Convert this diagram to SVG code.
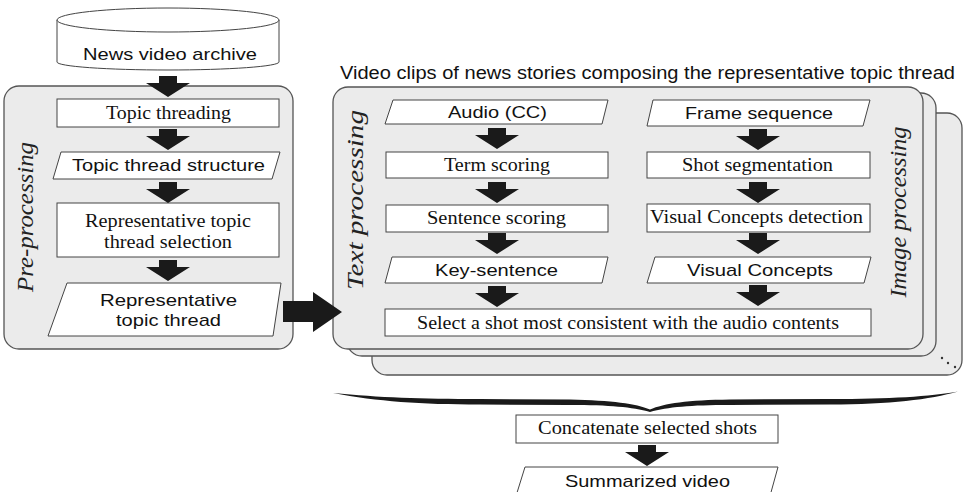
<svg xmlns="http://www.w3.org/2000/svg" xmlns:xlink="http://www.w3.org/1999/xlink" width="965" height="492" viewBox="0 0 965 492">
<style>
.panel{fill:#ebebeb;stroke:#555;stroke-width:1.3}
.box{fill:#fff;stroke:#444;stroke-width:1}
.sans{font-family:"Liberation Sans",Arial,sans-serif;font-size:17px;fill:#111}
.serif{font-family:"Liberation Serif","Times New Roman",serif;font-size:18px;fill:#111}
.lbl{font-family:"Liberation Serif","Times New Roman",serif;font-size:23px;font-style:italic;fill:#222}
.arr{fill:#1a1a1a}
</style>
<defs>
<path id="arr" d="M-9,0 H9 V7 H22 L0,21 L-22,7 H-9 Z"/>
</defs>
<rect width="965" height="492" fill="#fff"/>

<g id="panel-stack">
<rect class="panel" x="372" y="113" width="590" height="262" rx="15"/>
<rect class="panel" x="347" y="93" width="589" height="263" rx="15"/>
<rect class="panel" x="333" y="87" width="590" height="262" rx="15"/>
<circle cx="942" cy="358" r="1.2" fill="#333"/>
<circle cx="948" cy="363" r="1.2" fill="#333"/>
<circle cx="955" cy="367" r="1.2" fill="#333"/>
</g>
<g id="preprocessing-panel">
<rect class="panel" x="4" y="86" width="289" height="263" rx="15"/>
<text class="lbl" transform="translate(33,217) rotate(-90)" text-anchor="middle" textLength="150" lengthAdjust="spacingAndGlyphs">Pre-processing</text>
</g>

<g id="archive">
<path class="box" d="M57,20 V62 A111,8 0 0 0 279,62 V20"/>
<ellipse class="box" cx="168" cy="20" rx="111" ry="12"/>
<text class="sans" x="170" y="60" text-anchor="middle" textLength="174" lengthAdjust="spacingAndGlyphs">News video archive</text>
</g>

<g id="topic-threading">
<rect class="box" x="57" y="99" width="222" height="28"/>
<text class="serif" x="168.5" y="118.5" text-anchor="middle" textLength="125" lengthAdjust="spacingAndGlyphs">Topic threading</text>
</g>
<g id="topic-thread-structure">
<polygon class="box" points="61,152 280,152 272,179 53,179"/>
<text class="sans" x="168.5" y="171" text-anchor="middle" textLength="193" lengthAdjust="spacingAndGlyphs">Topic thread structure</text>
</g>
<g id="rep-selection">
<rect class="box" x="57" y="203" width="222" height="54"/>
<text class="serif" x="168" y="226.5" text-anchor="middle" textLength="166" lengthAdjust="spacingAndGlyphs">Representative topic</text>
<text class="serif" x="168" y="248" text-anchor="middle" textLength="128" lengthAdjust="spacingAndGlyphs">thread selection</text>
</g>
<g id="rep-thread">
<polygon class="box" points="67,283 281,283 273,336 48,336"/>
<text class="sans" x="168.5" y="305.5" text-anchor="middle" textLength="137" lengthAdjust="spacingAndGlyphs">Representative</text>
<text class="sans" x="168.5" y="326" text-anchor="middle" textLength="105" lengthAdjust="spacingAndGlyphs">topic thread</text>
</g>

<g id="title">
<text class="sans" x="340" y="79" textLength="615" lengthAdjust="spacingAndGlyphs" style="font-size:17.5px">Video clips of news stories composing the representative topic thread</text>
</g>
<g id="text-processing-label">
<text class="lbl" transform="translate(363,200) rotate(-90)" text-anchor="middle" textLength="180" lengthAdjust="spacingAndGlyphs">Text processing</text>
</g>
<g id="image-processing-label">
<text class="lbl" transform="translate(906,212) rotate(-90)" text-anchor="middle" textLength="171" lengthAdjust="spacingAndGlyphs">Image processing</text>
</g>

<g id="audio">
<polygon class="box" points="393,100 608,100 602,124 385,124"/>
<text class="sans" x="497.5" y="118" text-anchor="middle" textLength="99" lengthAdjust="spacingAndGlyphs">Audio (CC)</text>
</g>
<g id="term-scoring">
<rect class="box" x="386" y="152" width="222" height="26"/>
<text class="serif" x="497" y="171" text-anchor="middle" textLength="106" lengthAdjust="spacingAndGlyphs">Term scoring</text>
</g>
<g id="sentence-scoring">
<rect class="box" x="386" y="205" width="222" height="27"/>
<text class="serif" x="496.5" y="224" text-anchor="middle" textLength="139" lengthAdjust="spacingAndGlyphs">Sentence scoring</text>
</g>
<g id="key-sentence">
<polygon class="box" points="392,257 608,257 602,283 385,283"/>
<text class="sans" x="496.5" y="276" text-anchor="middle" textLength="123" lengthAdjust="spacingAndGlyphs">Key-sentence</text>
</g>
<g id="frame-sequence">
<polygon class="box" points="653,100 870,100 863,126 647,126"/>
<text class="sans" x="759" y="118.5" text-anchor="middle" textLength="148" lengthAdjust="spacingAndGlyphs">Frame sequence</text>
</g>
<g id="shot-segmentation">
<rect class="box" x="647" y="152" width="223" height="26"/>
<text class="serif" x="757.5" y="171" text-anchor="middle" textLength="151" lengthAdjust="spacingAndGlyphs">Shot segmentation</text>
</g>
<g id="vc-detection">
<rect class="box" x="647" y="204" width="223" height="28"/>
<text class="serif" x="756.5" y="223" text-anchor="middle" textLength="213" lengthAdjust="spacingAndGlyphs">Visual Concepts detection</text>
</g>
<g id="visual-concepts">
<polygon class="box" points="655,257 871,257 864,283 647,283"/>
<text class="sans" x="760" y="276" text-anchor="middle" textLength="146" lengthAdjust="spacingAndGlyphs">Visual Concepts</text>
</g>
<g id="select-shot">
<rect class="box" x="385" y="309" width="486" height="27"/>
<text class="serif" x="628" y="328.5" text-anchor="middle" textLength="422" lengthAdjust="spacingAndGlyphs">Select a shot most consistent with the audio contents</text>
</g>

<g id="brace">
<path fill="#1a1a1a" d="M333,393 C380,397.5 420,399 480,399 L570,399.5 C612,400.5 636,403.5 650,409.5 C664,403.5 688,400 730,399.5 L830,399 C890,399 930,396.5 958,391.5 C930,399.5 890,404.5 830,404.5 L730,405 C690,405 668,407 650,412 C632,407 610,405 570,405 L480,404.5 C420,404.5 378,401.5 333,393 Z"/>
</g>
<g id="concatenate">
<rect class="box" x="516" y="415" width="262" height="28"/>
<text class="serif" x="647.5" y="434" text-anchor="middle" textLength="219" lengthAdjust="spacingAndGlyphs">Concatenate selected shots</text>
</g>
<g id="summarized">
<polygon class="box" points="525,467 778,467 770,496 516,496"/>
<text class="sans" x="647.5" y="486.5" text-anchor="middle" textLength="165" lengthAdjust="spacingAndGlyphs">Summarized video</text>
</g>

<g id="connectors" class="arr">
<use xlink:href="#arr" x="168" y="76"/>
<use xlink:href="#arr" x="168" y="129"/>
<use xlink:href="#arr" x="168" y="182"/>
<use xlink:href="#arr" x="168" y="260"/>
<use xlink:href="#arr" x="497" y="128"/>
<use xlink:href="#arr" x="497" y="182"/>
<use xlink:href="#arr" x="497" y="233"/>
<use xlink:href="#arr" x="497" y="286"/>
<use xlink:href="#arr" x="758" y="129"/>
<use xlink:href="#arr" x="758" y="182"/>
<use xlink:href="#arr" x="758" y="233"/>
<use xlink:href="#arr" x="758" y="285"/>
<use xlink:href="#arr" x="647" y="445"/>
<path d="M283,301 H313 V292 L342,312 L313,332 V322 H283 Z"/>
</g>
</svg>
